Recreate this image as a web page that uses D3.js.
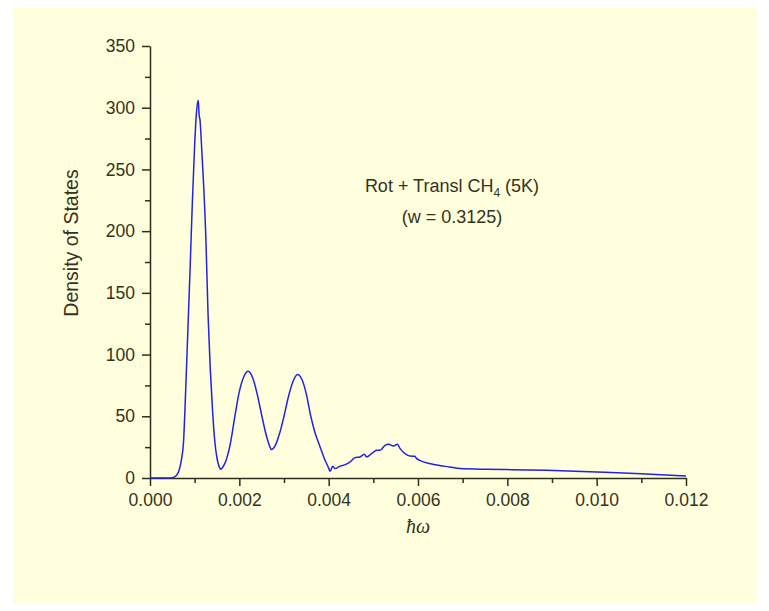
<!DOCTYPE html>
<html>
<head>
<meta charset="utf-8">
<script src="https://cdn.jsdelivr.net/npm/d3@7"></script>
<style>
  body { margin: 0; background: #ffffff; }
  svg { display: block; }
</style>
</head>
<body>
<div id="chart"></div>
<script>
var width = 769;
var height = 611;

// energy (hbar*omega) values
var energy = [0, 0.0002, 0.0004, 0.0005, 0.0006, 0.00065, 0.0007, 0.00075, 0.0008, 0.00085,
  0.0009, 0.00095, 0.001, 0.00104, 0.00108, 0.0011, 0.00112, 0.00115, 0.0012, 0.00125,
  0.0013, 0.00135, 0.0014, 0.00145, 0.0015, 0.00155, 0.00158, 0.0016, 0.00165, 0.0017,
  0.0018, 0.0019, 0.002, 0.0021, 0.0022, 0.0023, 0.0024, 0.0025, 0.0026, 0.0027,
  0.00272, 0.0028, 0.0029, 0.003, 0.0031, 0.0032, 0.0033, 0.0034, 0.0035, 0.0036,
  0.0037, 0.0038, 0.0039, 0.004, 0.00403, 0.00409, 0.00414, 0.00425, 0.00437, 0.00448,
  0.00459, 0.0047, 0.0048, 0.00485, 0.00496, 0.00508, 0.00515, 0.00526, 0.00534, 0.00545,
  0.00554, 0.0056, 0.00571, 0.00582, 0.00593, 0.00597, 0.00604, 0.00626, 0.0065, 0.0067,
  0.00694, 0.0075, 0.008, 0.00888, 0.01, 0.011, 0.012];

// density of states at each energy
var dos = [0, 0, 0, 0.3, 2.5, 6, 14, 29, 72, 122,
  172, 225, 270, 296, 306, 294, 290, 272, 238, 195,
  132, 88, 55, 30, 16, 9, 7, 7.5, 10, 14,
  28, 50, 70, 82, 86.4, 81, 68, 51, 35, 24,
  23, 26, 36, 50, 66, 78, 83.8, 80, 68, 50,
  36, 26, 16, 8, 5.4, 9.5, 7.6, 9.5, 10.8, 13,
  16.5, 17, 19.2, 17, 19.8, 22.4, 22.4, 26.5, 27.3, 26,
  27.3, 23.8, 19.8, 17.8, 17.6, 15.7, 14.3, 11.7, 10, 9,
  7.6, 7, 6.8, 6.2, 4.9, 3.5, 1.6];

var xTicks = [0, 0.002, 0.004, 0.006, 0.008, 0.010, 0.012];
var xMinorTicks = [0.001, 0.003, 0.005, 0.007, 0.009, 0.011];
var yTicks = [0, 50, 100, 150, 200, 250, 300, 350];
var yMinorTicks = [25, 75, 125, 175, 225, 275, 325];

var axisColor = "#2e2e1c";
var textColor = "#333320";
var lineColor = "#2222e6";
var sans = "Liberation Sans, Arial, sans-serif";

var svg = d3.select("#chart").append("svg")
  .attr("width", width)
  .attr("height", height);

// pale yellow panel
svg.append("rect")
  .attr("x", 13).attr("y", 8)
  .attr("width", 744).attr("height", 595)
  .attr("fill", "#ffffdd");

var xScale = d3.scaleLinear().domain([0, 0.012]).range([150, 686]);
var yScale = d3.scaleLinear().domain([0, 350]).range([478, 46]);

function styleAxis(g) {
  g.attr("font-family", sans).attr("font-size", 17.5);
  g.select(".domain").attr("stroke", axisColor).attr("stroke-width", 1.5);
  g.selectAll("line").attr("stroke", axisColor).attr("stroke-width", 1.5);
  g.selectAll("text").attr("fill", textColor);
}

// minor ticks
svg.append("g")
  .attr("transform", "translate(0,478)")
  .call(d3.axisBottom(xScale).tickValues(xMinorTicks).tickSize(5).tickFormat(""))
  .call(g => g.select(".domain").remove())
  .call(styleAxis);

svg.append("g")
  .attr("transform", "translate(150,0)")
  .call(d3.axisLeft(yScale).tickValues(yMinorTicks).tickSize(5).tickFormat(""))
  .call(g => g.select(".domain").remove())
  .call(styleAxis);

// major axes
svg.append("g")
  .attr("transform", "translate(0,478)")
  .call(d3.axisBottom(xScale).tickValues(xTicks).tickSize(8).tickSizeOuter(0).tickPadding(8)
    .tickFormat(d3.format(".3f")))
  .call(styleAxis);

svg.append("g")
  .attr("transform", "translate(150,0)")
  .call(d3.axisLeft(yScale).tickValues(yTicks).tickSize(8).tickSizeOuter(0).tickPadding(7))
  .call(styleAxis);

// the curve
var line = d3.line()
  .x((d, i) => xScale(energy[i]))
  .y(d => yScale(d))
  .curve(d3.curveMonotoneX);

svg.append("path")
  .datum(dos)
  .attr("d", line)
  .attr("fill", "none")
  .attr("stroke", lineColor)
  .attr("stroke-width", 1.5)
  .attr("stroke-linejoin", "round");

// axis labels
svg.append("text")
  .attr("transform", "translate(78,243) rotate(-90)")
  .attr("text-anchor", "middle")
  .attr("font-family", sans)
  .attr("font-size", 19.5)
  .attr("fill", textColor)
  .text("Density of States");

svg.append("text")
  .attr("x", 418).attr("y", 533)
  .attr("text-anchor", "middle")
  .attr("font-family", "Liberation Serif, Times New Roman, serif")
  .attr("font-style", "italic")
  .attr("font-size", 20)
  .attr("fill", textColor)
  .text("ħω");

// annotation
var note = svg.append("text")
  .attr("x", 452).attr("y", 192)
  .attr("text-anchor", "middle")
  .attr("font-family", sans)
  .attr("font-size", 18)
  .attr("fill", textColor);
note.append("tspan").text("Rot + Transl CH");
note.append("tspan").attr("font-size", 12).attr("dy", 5).text("4");
note.append("tspan").attr("dy", -5).text(" (5K)");

svg.append("text")
  .attr("x", 452).attr("y", 223)
  .attr("text-anchor", "middle")
  .attr("font-family", sans)
  .attr("font-size", 18)
  .attr("fill", textColor)
  .text("(w = 0.3125)");
</script>
</body>
</html>
